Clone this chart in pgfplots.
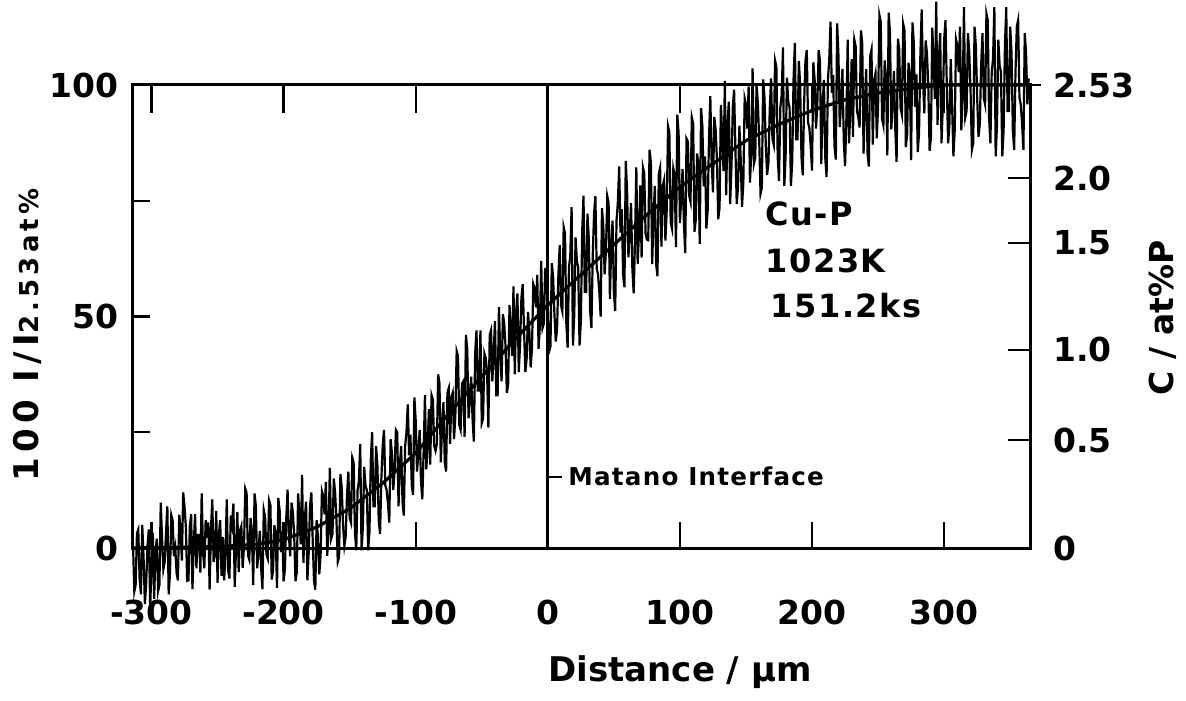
\documentclass[border=0pt]{standalone}
\usepackage{fontspec}
\setmainfont{DejaVu Sans}
\newfontfamily\lsa{DejaVu Sans}[LetterSpace=5]
\newfontfamily\lsb{DejaVu Sans}[LetterSpace=16]
\usepackage{pgfplots}
\pgfplotsset{compat=1.18}
\usepackage{pgfplotstable}

\pgfplotstableread{
x y
-314 1
-313 -9.4
-312 -8
-311 3.2
-310 4
-309 -6.7
-308 -10
-307 5
-306 -2
-305 -12.1
-304 -7.5
-303 0.6
-302 4
-301 -12.9
-300 -4
-299 3.3
-298 -11
-297 -1.2
-296 2
-295 -9.3
-294 -8
-293 9.8
-292 2
-291 -4.6
-290 -3
-289 3.5
-288 9
-287 -10
-286 -5.5
-285 7.1
-284 6
-283 -1.8
-282 0
-281 -5.4
-280 -7
-279 7.2
-278 4
-277 -2.7
-276 12
-275 9
-274 4.6
-273 -7.1
-272 -7
-271 4.6
-270 7.3
-269 -8.9
-268 1
-267 7.3
-266 -4.4
-265 2.8
-264 2.8
-263 -5.3
-262 11.8
-261 -1
-260 -4.4
-259 6
-258 3.7
-257 5.5
-256 -9
-255 4
-254 10.5
-253 -3
-252 -1.2
-251 8
-250 -7.5
-249 3
-248 6
-247 -6
-246 2.4
-245 -7
-244 -1.2
-243 10.5
-242 -4.8
-241 -6.6
-240 7
-239 5.1
-238 9.6
-237 -8.4
-236 -0.3
-235 7.8
-234 -5.2
-233 3.8
-232 4.7
-231 -4.3
-230 0.2
-229 12.8
-228 11.9
-227 -1.6
-226 -2.5
-225 6.5
-224 2.8
-223 -8
-222 11.8
-221 9.1
-220 -4.4
-219 -0.8
-218 3.7
-217 -4.4
-216 -8.9
-215 8.2
-214 6.7
-213 -1.4
-212 -2.3
-211 10.3
-210 9.4
-209 -6.8
-208 -5
-207 4.9
-206 3.1
-205 -8.6
-204 10.8
-203 8.1
-202 -0.9
-201 3.6
-200 -7.2
-199 -4.5
-198 6.3
-197 12.6
-196 2.7
-195 -1.8
-194 9.8
-193 7.8
-192 2.8
-191 -7.2
-190 -5.2
-189 11.8
-188 6.8
-187 0.8
-186 15.8
-185 -3.2
-184 6
-183 10
-182 -7
-181 -1
-180 9
-179 12
-178 2
-177 -7
-176 -9
-175 6
-174 2.3
-173 -5.7
-172 -1.7
-171 12.3
-170 11.3
-169 7.3
-168 14.3
-167 -1.7
-166 3.3
-165 17.3
-164 2
-163 3
-162 15
-161 12
-160 6
-159 -3
-158 -2
-157 16
-156 13
-155 5
-154 0.5
-153 2.5
-152 11.5
-151 16.5
-150 6.5
-149 5.5
-148 19.5
-147 18.5
-146 3.5
-145 -0.5
-144 12.5
-143 14.5
-142 22.5
-141 -0.5
-140 4.5
-139 17.5
-138 13.5
-137 12.5
-136 -0.5
-135 3.5
-134 19
-133 25
-132 9
-131 9
-130 22
-129 18
-128 6
-127 3
-126 15
-125 22
-124 25.5
-123 13.5
-122 12.5
-121 9.5
-120 5.5
-119 23.5
-118 20.5
-117 12.5
-116 16.5
-115 25.5
-114 25
-113 9
-112 18
-111 22
-110 10
-109 7
-108 22
-107 25
-106 31
-105 20
-104 24.5
-103 13.5
-102 11.5
-101 32.5
-100 27.5
-99 16.5
-98 20.5
-97 25.5
-96 14.5
-95 10.5
-94 21
-93 33
-92 17
-91 22
-90 30
-89 18
-88 33
-87 32
-86 22
-85 21
-84 22.5
-83 37.5
-82 35.5
-81 18.5
-80 26.5
-79 31.5
-78 18.5
-77 16.5
-76 33.5
-75 34.5
-74 22.5
-73 32.5
-72 33.5
-71 23.5
-70 28.5
-69 42.5
-68 41.5
-67 26.5
-66 25.5
-65 35.5
-64 36
-63 24
-62 46
-61 43
-60 28
-59 32
-58 37
-57 28
-56 23
-55 42
-54 47
-53 34
-52 34
-51 47
-50 27
-49 28
-48 42
-47 41
-46 38
-45 26
-44 46
-43 47
-42 36
-41 42
-40 49
-39 33
-38 33
-37 52
-36 42
-35 36
-34 50.5
-33 48.5
-32 43.5
-31 33.5
-30 35.5
-29 52.5
-28 47.5
-27 41.5
-26 56.5
-25 37.5
-24 51
-23 55
-22 38
-21 44
-20 54
-19 57
-18 47
-17 38
-16 41
-15 51
-14 47
-13 39
-12 43
-11 57
-10 56
-9 52
-8 59
-7 43
-6 48
-5 62
-4 47.5
-3 48.5
-2 60.5
-1 57.5
0 51.5
1 42.5
2 43.5
3 61.5
4 58.5
5 50.5
6 44.6
7 47.2
8 58.9
9 65.4
10 52.4
11 51.1
12 69.3
13 68
14 48.5
15 43.3
16 60.6
17 63.2
18 73.6
19 43.7
20 50.2
21 67.1
22 61.9
23 60.6
24 43.7
25 48.9
26 68.3
27 76.1
28 55.3
29 55.3
30 72.2
31 67
32 51.4
33 47.5
34 63.1
35 72.2
36 76
37 60.4
38 59.1
39 55.2
40 50
41 73.4
42 69.5
43 59.1
44 64.3
45 76
46 74.6
47 53.8
48 65.5
49 70.7
50 55.1
51 51.2
52 70.7
53 74.6
54 82.4
55 68.1
56 73.2
57 58.9
58 56.3
59 83.6
60 77.1
61 62.8
62 68
63 74.5
64 60.2
65 55
66 66.6
67 82.2
68 61.4
69 67.9
70 78.3
71 62.7
72 82.2
73 80.9
74 67.9
75 66.6
76 66.5
77 86
78 83.4
79 61.3
80 71.7
81 78.2
82 61.3
83 58.7
84 80.8
85 82.1
86 65.1
87 78.1
88 79.4
89 66.4
90 72.9
91 91.1
92 89.8
93 70.3
94 69
95 82
96 80.6
97 65
98 93.6
99 89.7
100 70.2
101 75.4
102 81.9
103 70.2
104 63.7
105 88.4
106 87.8
107 76.1
108 74.8
109 93
110 91.7
111 68.3
112 70.9
113 85.2
114 82.6
115 65.7
116 95
117 91.1
118 78.1
119 84.6
120 69
121 72.9
122 88.5
123 97.6
124 83.3
125 76.8
126 93.1
127 90.5
128 84
129 71
130 73.6
131 95.7
132 89.2
133 81.4
134 100.9
135 76.2
136 91.2
137 96.4
138 74.3
139 82.1
140 95.1
141 99
142 86
143 74.3
144 78.2
145 91.2
146 84.1
147 73.7
148 78.9
149 97.1
150 95.8
151 90.6
152 99.7
153 78.9
154 85.4
155 103.6
156 83
157 84.3
158 99.9
159 96
160 88.2
161 76.5
162 77.8
163 101.2
164 97.3
165 86.9
166 80.6
167 83.2
168 94.9
169 101.4
170 88.4
171 87.1
172 105.3
173 104
174 84.5
175 79.3
176 95.1
177 97.7
178 108.1
179 78.2
180 84.7
181 101.6
182 96.4
183 95.1
184 78.2
185 83.4
186 101.3
187 109.1
188 88.3
189 88.3
190 105.2
191 100
192 84.4
193 80.5
194 96.1
195 105.2
196 107.5
197 91.9
198 90.6
199 86.7
200 81.5
201 104.9
202 101
203 90.6
204 95.8
205 107.5
206 105.3
207 82.9
208 95.5
209 101.1
210 84.3
211 80.1
212 101.1
213 105.3
214 113.7
215 98.3
216 102.1
217 86.7
218 83.9
219 113.3
220 106.3
221 90.9
222 96.5
223 103.5
224 88.1
225 82.5
226 93
227 109.8
228 87.4
229 94.4
230 105.6
231 88.8
232 109.8
233 108.4
234 94.4
235 93
236 90.8
237 111.8
238 109
239 85.2
240 96.4
241 103.4
242 85.2
243 82.4
244 106.2
245 107.6
246 87.1
247 101.1
248 102.5
249 88.5
250 95.5
251 115.1
252 113.7
253 92.7
254 91.3
255 105.3
256 101.6
257 84.8
258 115.6
259 111.4
260 90.4
261 96
262 103
263 90.4
264 83.4
265 110
266 107.6
267 95
268 93.6
269 113.2
270 111.8
271 86.6
272 89.4
273 104.8
274 102
275 83.8
276 113.5
277 109.3
278 95.3
279 102.3
280 85.5
281 89.7
282 106.5
283 116.3
284 100.9
285 93.9
286 109.6
287 106.8
288 99.8
289 85.8
290 88.6
291 112.4
292 105.4
293 97
294 118
295 91.4
296 105.6
297 111.2
298 87.4
299 95.8
300 109.8
301 114
302 100
303 87.4
304 91.6
305 105.6
306 95.8
307 84.6
308 90.2
309 109.8
310 108.4
311 102.8
312 112.6
313 90.2
314 97.2
315 116.8
316 93
317 94.4
318 111.2
319 107
320 98.6
321 86
322 87.4
323 112.6
324 108.4
325 97.2
326 88.8
327 91.6
328 104.2
329 111.2
330 97.2
331 95.8
332 115.4
333 114
334 93
335 87.4
336 102.8
337 105.6
338 116.8
339 84.6
340 91.6
341 109.8
342 104.2
343 102.8
344 84.6
345 90.2
346 108.4
347 116.8
348 94.4
349 94.4
350 112.6
351 107
352 90.2
353 86
354 102.8
355 112.6
356 114
357 97.2
358 95.8
359 91.6
360 86
361 111.2
362 107
363 95.8
364 101.4
}\trace

\pgfplotstableread{
x y
-314 0
-250 0.3
-220 0.8
-200 1.8
-175 4.5
-150 8.5
-125 14
-100 20.5
-75 29
-50 37
-25 45
0 52.5
25 59
50 65.5
75 72
100 78
125 83
150 88
175 91.5
200 94.5
225 96.8
250 98.3
275 99.3
300 100
365 100
}\smoothc

\newcommand{\fs}[1]{\fontsize{#1}{#1}\selectfont\bfseries}

\begin{document}
\begin{tikzpicture}
\begin{axis}[
  at={(0,0)}, anchor=south west,
  width=448.5pt, height=231.5pt, scale only axis,
  xmin=-314, xmax=365, ymin=0, ymax=100,
  clip=false,
  axis line style={line width=1.5pt},
  xtick={-300,-200,-100,0,100,200,300},
  xticklabels={-300,-200,-100,0,100,200,300},
  xtick style={draw=none},
  xtick pos=bottom,
  xticklabel style={font=\fs{16.5}, inner sep=0pt, anchor=north},
  xticklabel shift=26pt,
  ytick={0,25,50,75,100},
  yticklabels={0,,50,,100},
  ytick pos=left,
  tick align=inside,
  ytick style={line width=1.2pt, black},
  major tick length=8.5pt,
  yticklabel style={font=\fs{16.5}, inner sep=0pt, anchor=east},
  yticklabel shift=7pt,
  /pgf/number format/assume math mode=true,
]
\addplot[black, line width=1.1pt] table {\trace};
\addplot[black, line width=1.6pt] table {\smoothc};
\draw[line width=1.5pt] (axis cs:0,0) -- (axis cs:0,100);
\pgfplotsinvokeforeach{-300,-200,-100,100,200,300}{
  \draw[line width=1.2pt] (axis cs:#1,100) -- (axis cs:#1,94);
  \draw[line width=1.2pt] (axis cs:#1,0) -- (axis cs:#1,5.6);
}
\draw[line width=1pt] (axis cs:0,15.3) -- (axis cs:11,15.3);
\node[anchor=base west, inner sep=0pt, font=\lsa\fs{12.3}] at (rel axis cs:0.485,0.136) {Matano Interface};
\node[anchor=base west, inner sep=0pt, font=\lsa\fs{16}] at (rel axis cs:0.7046,0.6955) {Cu-P};
\node[anchor=base west, inner sep=0pt, font=\lsa\fs{16}] at (rel axis cs:0.7046,0.594) {1023K};
\node[anchor=base west, inner sep=0pt, font=\lsa\fs{16}] at (rel axis cs:0.7102,0.4968) {151.2ks};
\node[rotate=90, font=\lsb\fs{17}] at (rel axis cs:-0.1182,0.46) {100 I/I{\fs{13}2.53at\%}};
\node[rotate=90, font=\fs{16.5}] at (rel axis cs:1.1483,0.497) {C / at\%P};
\node[font=\fs{17}] at (rel axis cs:0.6098,-0.268) {Distance / µm};
\end{axis}
\begin{axis}[
  at={(0,0)}, anchor=south west,
  width=448.5pt, height=231.5pt, scale only axis,
  xmin=-314, xmax=365, ymin=0, ymax=100,
  clip=false,
  hide x axis,
  axis y line*=right,
  axis line style={line width=1.5pt},
  tick align=inside,
  ytick={0,23.3,42.8,65.9,79.9,100},
  yticklabels={0,0.5,1.0,1.5,2.0,2.53},
  major tick length=11pt,
  ytick style={line width=1.2pt, black},
  yticklabel style={font=\fs{16.5}, inner sep=0pt, anchor=west},
  yticklabel shift=11.5pt,
  /pgf/number format/assume math mode=true,
]
\draw[line width=1.2pt] (axis cs:365,100) -- (axis cs:373,100);
\end{axis}
\pgfresetboundingbox
\path[use as bounding box] (-66.5pt,-76pt) rectangle (526.5pt,274pt);
\end{tikzpicture}
\end{document}
